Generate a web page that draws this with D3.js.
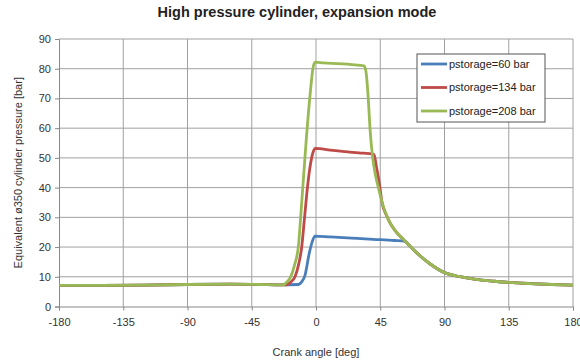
<!DOCTYPE html>
<html>
<head>
<meta charset="utf-8">
<script src="https://cdn.jsdelivr.net/npm/d3@7"></script>
<style>
  body { margin: 0; background: #fff; }
  svg text { font-family: "Liberation Sans", Arial, sans-serif; }
</style>
</head>
<body>
<div id="chart"></div>
<script>
// High pressure cylinder, expansion mode
const xTicks = [-180, -135, -90, -45, 0, 45, 90, 135, 180];
const yTicks = [0, 10, 20, 30, 40, 50, 60, 70, 80, 90];

const seriesNames = ['pstorage=60 bar', 'pstorage=134 bar', 'pstorage=208 bar'];
const seriesColors = ['#4a7ebb', '#be4b48', '#98b954'];

// [crank angle, pressure]
const base = [[-180, 7.1], [-150, 7.1], [-120, 7.2], [-90, 7.4], [-60, 7.5], [-40, 7.4], [-24, 7.3]];
const tail = [[49.5, 30.5], [52, 28], [55, 25.8], [62.4, 22], [65, 20.7], [70, 18.3], [80, 14.3], [90, 11.4],
  [100, 10.1], [112, 9.1], [125, 8.5], [135, 8.1], [150, 7.7], [165, 7.4], [180, 7.2]];

const p60 = base.concat([[-12.4, 7.4], [-10, 8.3], [-7.7, 10.5], [-4.7, 18], [-2.5, 22], [-0.7, 23.7],
  [10, 23.4], [25, 23.0], [40, 22.6], [55, 22.2], [62.4, 21.9]], tail.slice(4));
const p134 = base.concat([[-20.6, 7.3], [-17.5, 8.3], [-14.7, 10], [-12, 14.5], [-10, 20], [-8, 30],
  [-6, 40], [-4, 47.5], [-2, 52], [-0.5, 53.2], [10, 52.6], [20, 52.1], [30, 51.7], [40.6, 51.2],
  [42.5, 46.5], [44.5, 41], [46, 35.6]], tail);
const p208 = base.concat([[-22.9, 7.3], [-20.5, 8.2], [-17.7, 10], [-15, 14], [-12.4, 20], [-10, 35],
  [-7, 55], [-4, 72], [-2, 80.5], [-0.5, 82.2], [5, 82.0], [15, 81.7], [25, 81.4], [33.6, 81],
  [35, 79], [36.6, 70], [37.8, 60], [39.7, 50], [41.5, 44.5], [43.7, 40], [46, 35.5]], tail);
const seriesValues = [p60, p134, p208];

const width = 580, height = 364;
const margin = { top: 39, right: 7, bottom: 57.5, left: 59 };

const svg = d3.select('#chart').append('svg')
  .attr('width', width).attr('height', height);

const x = d3.scaleLinear().domain([-180, 180]).range([margin.left, width - margin.right]);
const y = d3.scaleLinear().domain([0, 90]).range([height - margin.bottom, margin.top]);

// gridlines
svg.append('g').selectAll('line').data(yTicks.slice(1)).enter().append('line')
  .attr('x1', x(-180)).attr('x2', x(180))
  .attr('y1', d => y(d)).attr('y2', d => y(d))
  .attr('stroke', '#a0a0a0').attr('stroke-width', 1);
svg.append('g').selectAll('line').data(xTicks.slice(1)).enter().append('line')
  .attr('x1', d => x(d)).attr('x2', d => x(d))
  .attr('y1', y(0)).attr('y2', y(90))
  .attr('stroke', '#a0a0a0').attr('stroke-width', 1);

// axes
const xAxis = svg.append('g')
  .attr('transform', `translate(0,${y(0)})`)
  .call(d3.axisBottom(x).tickValues(xTicks).tickFormat(d => String(d)).tickSize(4).tickPadding(8));
const yAxis = svg.append('g')
  .attr('transform', `translate(${x(-180)},0)`)
  .call(d3.axisLeft(y).tickValues(yTicks).tickFormat(d => String(d)).tickSize(4).tickPadding(4));
[xAxis, yAxis].forEach(g => {
  g.select('.domain').attr('stroke', '#888');
  g.selectAll('.tick line').attr('stroke', '#888');
  g.selectAll('.tick text').attr('fill', '#333').attr('font-size', 11)
    .style('font-family', '"Liberation Sans", Arial, sans-serif');
});

// lines
const line = d3.line().x(d => x(d[0])).y(d => y(d[1])).curve(d3.curveMonotoneX);
seriesValues.forEach((s, i) => {
  svg.append('path')
    .attr('d', line(s))
    .attr('fill', 'none')
    .attr('stroke', seriesColors[i])
    .attr('stroke-width', 2.8)
    .attr('stroke-linejoin', 'round');
});

// title
svg.append('text')
  .attr('x', 297).attr('y', 17)
  .attr('text-anchor', 'middle')
  .attr('font-size', 14.5).attr('font-weight', 'bold').attr('fill', '#222')
  .text('High pressure cylinder, expansion mode');

// axis labels
svg.append('text')
  .attr('x', x(0)).attr('y', 356)
  .attr('text-anchor', 'middle')
  .attr('font-size', 11).attr('fill', '#333')
  .text('Crank angle [deg]');
svg.append('text')
  .attr('transform', `translate(22,${(y(0) + y(90)) / 2}) rotate(-90)`)
  .attr('text-anchor', 'middle')
  .attr('font-size', 11).attr('fill', '#333')
  .text('Equivalent ø350 cylinder pressure [bar]');

// legend
const legendG = svg.append('g').attr('transform', 'translate(417,54)');
legendG.append('rect')
  .attr('width', 128).attr('height', 68)
  .attr('fill', '#fff').attr('stroke', '#555').attr('stroke-width', 1);
const item = legendG.selectAll('g.item').data(seriesNames).enter().append('g')
  .attr('class', 'item')
  .attr('transform', (d, i) => `translate(0,${10 + i * 23.5})`);
item.append('line')
  .attr('x1', 4).attr('x2', 30).attr('y1', 0).attr('y2', 0)
  .attr('stroke', (d, i) => seriesColors[i]).attr('stroke-width', 2.8);
item.append('text')
  .attr('x', 32).attr('y', 0).attr('dy', '0.35em')
  .attr('font-size', 11).attr('fill', '#222')
  .text(d => d);
</script>
</body>
</html>
